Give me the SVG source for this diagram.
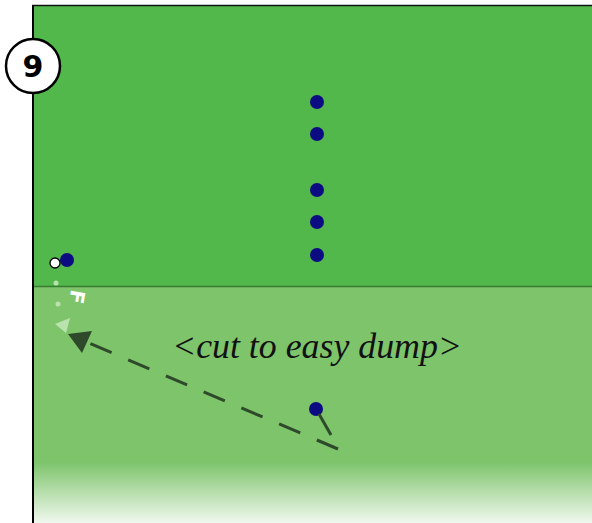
<svg xmlns="http://www.w3.org/2000/svg" width="592" height="523" viewBox="0 0 592 523">
  <defs>
    <linearGradient id="fade" x1="0" y1="0" x2="0" y2="1">
      <stop offset="0" stop-color="#7dc46b"/>
      <stop offset="1" stop-color="#f0f8ee"/>
    </linearGradient>
    <style>
      .player { fill: #0c0c82; }
      .trail { fill: #b9e2ad; }
      .cut { stroke: #2f4a2a; stroke-width: 3; fill: none; }
      .label { font-family: "Liberation Serif", "DejaVu Serif", serif; font-style: italic; font-size: 35px; fill: #111; }
    </style>
  </defs>

  <!-- field -->
  <g id="field">
    <rect x="33" y="5" width="559" height="282" fill="#52b84c"/>
    <rect x="33" y="287" width="559" height="236" fill="#7dc46b"/>
    <rect x="33" y="462" width="559" height="61" fill="url(#fade)"/>
    <line x1="33" y1="286.5" x2="592" y2="286.5" stroke="#3b7a33" stroke-width="1.5"/>
    <line x1="32" y1="5.5" x2="592" y2="5.5" stroke="#111" stroke-width="1.5"/>
    <line x1="33" y1="5" x2="33" y2="523" stroke="#000" stroke-width="2"/>
  </g>

  <!-- step number -->
  <g id="step">
    <circle cx="33" cy="66" r="27" fill="#fff" stroke="#000" stroke-width="2.5"/>
    <text x="33" y="77" text-anchor="middle" font-family="'DejaVu Sans', sans-serif" font-weight="bold" font-size="30" fill="#000">9</text>
  </g>

  <!-- stack -->
  <g id="stack">
    <circle class="player" cx="317" cy="102" r="7"/>
    <circle class="player" cx="317" cy="134" r="7"/>
    <circle class="player" cx="317" cy="190" r="7"/>
    <circle class="player" cx="317" cy="222" r="7"/>
    <circle class="player" cx="317" cy="255" r="7"/>
  </g>

  <!-- handler with disc -->
  <g id="handler">
    <circle class="player" cx="67" cy="260" r="7"/>
    <circle cx="55" cy="263" r="5" fill="#fff" stroke="#000" stroke-width="1.3"/>
  </g>

  <!-- forehand throw -->
  <g id="throw">
    <circle class="trail" cx="56" cy="283" r="2.5"/>
    <circle class="trail" cx="58" cy="304" r="2.5"/>
    <polygon class="trail" points="55,324 70,318 66,333"/>
    <text x="0" y="0" transform="translate(77 297) rotate(100)" text-anchor="middle" dominant-baseline="central" font-family="'DejaVu Sans', sans-serif" font-weight="bold" font-size="20" fill="#fff">F</text>
  </g>

  <!-- cutter -->
  <g id="cutter">
    <circle class="player" cx="316" cy="409" r="7"/>
  </g>

  <!-- connectors -->
  <g id="connectors">
    <line class="cut" x1="319" y1="414" x2="331" y2="435"/>
    <line class="cut" x1="338" y1="449" x2="84" y2="341" stroke-dasharray="23 18"/>
    <polygon points="68,334 92,331 82,353" fill="#2f4a2a"/>
  </g>

  <text class="label" x="317" y="358" text-anchor="middle" textLength="290" lengthAdjust="spacingAndGlyphs">&lt;cut to easy dump&gt;</text>
</svg>
